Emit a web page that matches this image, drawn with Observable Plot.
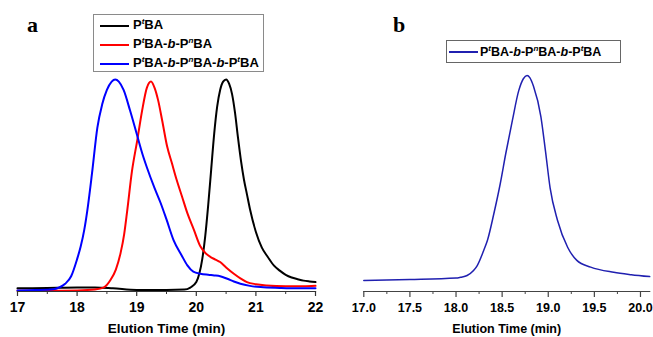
<!DOCTYPE html>
<html>
<head>
<meta charset="utf-8">
<script src="https://cdn.jsdelivr.net/npm/d3@7"></script>
<script src="https://cdn.jsdelivr.net/npm/@observablehq/plot@0.6"></script>
<style>
  html, body { margin: 0; padding: 0; background: #fff; }
  #wrap { position: relative; width: 653px; height: 337px; overflow: hidden; font-family: "Liberation Sans", Arial, sans-serif; }
  .pl { position: absolute; top: 0; }
  .lab { position: absolute; font-family: "Liberation Serif", "Times New Roman", serif; font-weight: bold; font-size: 22px; line-height: 22px; }
  .legend { position: absolute; border: 1px solid #8a8a8a; background: #fff; box-sizing: border-box; }
  .sw { position: absolute; height: 2px; }
  .tx { position: absolute; font-weight: bold; font-size: 13px; line-height: 18px; white-space: nowrap; color: #000; }
  .tx sup { font-size: 8px; font-style: italic; vertical-align: 0; position: relative; top: -5px; }
  .tx i { font-style: italic; }
</style>
</head>
<body>
<div id="wrap">
  <div class="pl" id="pa" style="left:0"></div>
  <div class="pl" id="pb" style="left:330px"></div>
  <div class="lab" style="left:27px; top:14px">a</div>
  <div class="lab" style="left:393px; top:14px">b</div>
  <div class="legend" style="left:93px; top:14px; width:171px; height:58px">
    <div class="sw" style="left:6px; top:10px; width:29px; background:#000"></div>
    <div class="tx" style="left:39px; top:1px">P<sup>t</sup>BA</div>
    <div class="sw" style="left:6px; top:29px; width:29px; background:#ff0000"></div>
    <div class="tx" style="left:39px; top:20px">P<sup>t</sup>BA-<i>b</i>-P<sup>n</sup>BA</div>
    <div class="sw" style="left:6px; top:48px; width:29px; background:#0000ff"></div>
    <div class="tx" style="left:39px; top:39px">P<sup>t</sup>BA-<i>b</i>-P<sup>n</sup>BA-<i>b</i>-P<sup>t</sup>BA</div>
  </div>
  <div class="legend" style="left:446px; top:40px; width:175px; height:23px; border-color:#666">
    <div class="sw" style="left:2px; top:10px; width:29px; height:1.5px; background:#2020b0"></div>
    <div class="tx" style="left:33px; top:1.5px; font-size:12.5px">P<sup>t</sup>BA-<i>b</i>-P<sup>n</sup>BA-<i>b</i>-P<sup>t</sup>BA</div>
  </div>
</div>
<script>
// ---- Panel a data (elution time in min, normalized RI signal) ----
const blackT = [17, 17.5, 18.0, 18.3, 18.6, 19.0, 19.5, 19.8, 19.9, 20.0, 20.05, 20.1, 20.15, 20.2, 20.25, 20.3, 20.35, 20.4, 20.45, 20.5, 20.55, 20.6, 20.65, 20.7, 20.75, 20.8, 20.85, 20.9, 21.0, 21.1, 21.2, 21.3, 21.4, 21.5, 21.6, 21.7, 21.8, 21.9, 22.0];
const blackV = [0.0, 0.002, 0.004, 0.004, 0.0, -0.008, -0.008, -0.006, 0.004, 0.03, 0.07, 0.14, 0.25, 0.40, 0.57, 0.74, 0.87, 0.95, 0.99, 1.0, 0.98, 0.93, 0.84, 0.72, 0.61, 0.52, 0.45, 0.38, 0.27, 0.195, 0.15, 0.11, 0.085, 0.065, 0.052, 0.044, 0.037, 0.033, 0.03];

const redT = [17, 17.5, 18.0, 18.3, 18.45, 18.56, 18.65, 18.73, 18.79, 18.84, 18.92, 19.01, 19.09, 19.17, 19.24, 19.3, 19.36, 19.43, 19.51, 19.59, 19.67, 19.76, 19.85, 19.96, 20.07, 20.15, 20.24, 20.32, 20.4, 20.5, 20.63, 20.74, 20.85, 21.0, 21.18, 21.5, 21.8, 22.0];
const redV = [-0.012, -0.012, -0.01, -0.005, 0.005, 0.04, 0.09, 0.17, 0.26, 0.37, 0.56, 0.71, 0.85, 0.96, 0.99, 0.96, 0.9, 0.8, 0.68, 0.6, 0.52, 0.44, 0.36, 0.28, 0.2, 0.17, 0.15, 0.138, 0.126, 0.1, 0.07, 0.048, 0.03, 0.02, 0.014, 0.01, 0.01, 0.012];

const blueT = [17, 17.3, 17.6, 17.7, 17.8, 17.9, 18.0, 18.06, 18.12, 18.17, 18.25, 18.34, 18.42, 18.5, 18.58, 18.64, 18.7, 18.78, 18.89, 19.0, 19.1, 19.17, 19.3, 19.4, 19.5, 19.62, 19.75, 19.85, 19.95, 20.07, 20.2, 20.3, 20.4, 20.52, 20.63, 20.74, 20.9, 21.08, 21.4, 21.7, 22.0];
const blueV = [-0.01, -0.008, -0.004, 0.004, 0.022, 0.058, 0.14, 0.20, 0.28, 0.37, 0.55, 0.77, 0.88, 0.95, 0.99, 1.0, 0.99, 0.95, 0.85, 0.74, 0.64, 0.58, 0.48, 0.41, 0.33, 0.23, 0.16, 0.11, 0.08, 0.07, 0.065, 0.062, 0.058, 0.046, 0.033, 0.022, 0.012, 0.006, 0.002, 0.0, 0.0];

// ---- Panel b data ----
const bT = [17.0, 17.5, 18.0, 18.05, 18.12, 18.19, 18.23, 18.30, 18.34, 18.41, 18.48, 18.54, 18.61, 18.68, 18.73, 18.77, 18.8, 18.84, 18.92, 18.97, 19.02, 19.10, 19.21, 19.31, 19.46, 19.71, 19.9, 20.1];
const bV = [0.051, 0.055, 0.062, 0.066, 0.074, 0.097, 0.12, 0.19, 0.236, 0.36, 0.50, 0.64, 0.79, 0.93, 0.985, 1.0, 0.99, 0.95, 0.81, 0.65, 0.48, 0.33, 0.205, 0.144, 0.113, 0.089, 0.078, 0.069];

const ticksA = [17, 18, 19, 20, 21, 22];
const minorA = [17.5, 18.5, 19.5, 20.5, 21.5];
const ticksB = [17.0, 17.5, 18.0, 18.5, 19.0, 19.5, 20.0];
const minorB = [17.25, 17.75, 18.25, 18.75, 19.25, 19.75];
const xTitle = "Elution Time (min)";

const pts = (T, V) => T.map((t, i) => ({t, v: V[i]}));
const font = "'Liberation Sans', Arial, sans-serif";

const plotA = Plot.plot({
  width: 330, height: 337,
  marginLeft: 17, marginRight: 15, marginTop: 79, marginBottom: 46,
  x: {domain: [17, 22], axis: null},
  y: {domain: [-0.015, 1.0], axis: null},
  style: {fontFamily: font, background: "transparent", color: "#000"},
  marks: [
    Plot.line(pts(blackT, blackV), {x: "t", y: "v", stroke: "#000", strokeWidth: 2, curve: "monotone-x"}),
    Plot.line(pts(redT, redV), {x: "t", y: "v", stroke: "#ff0000", strokeWidth: 2, curve: "monotone-x"}),
    Plot.line(pts(blueT, blueV), {x: "t", y: "v", stroke: "#0000ff", strokeWidth: 2, curve: "monotone-x"}),
    Plot.frame({anchor: "bottom", stroke: "#333", strokeWidth: 1.2}),
    Plot.tickX(ticksA, {x: d => d, frameAnchor: "bottom", y: null, stroke: "#333", strokeWidth: 1.2, insetTop: 0}),
    Plot.axisX({ticks: ticksA, tickSize: 5, label: null, tickFormat: () => "", stroke: "#333", strokeWidth: 1.2}),
    Plot.axisX({ticks: minorA, tickSize: 3, label: null, tickFormat: () => "", stroke: "#333"}),
    Plot.text(ticksA, {x: d => d, text: d => d3.format("d")(d), frameAnchor: "bottom", lineAnchor: "middle", dy: 16, fontSize: 14, fontWeight: "bold"}),
    Plot.text([xTitle], {text: d => d, frameAnchor: "bottom", lineAnchor: "middle", dy: 37, fontSize: 13.5, fontWeight: "bold"})
  ].filter((m, i) => i !== 4)
});
document.getElementById("pa").appendChild(plotA);

const plotB = Plot.plot({
  width: 323, height: 337,
  marginLeft: 33.3, marginRight: 3.8, marginTop: 75, marginBottom: 46,
  x: {domain: [17, 20.1], axis: null},
  y: {domain: [0, 1.0], axis: null},
  style: {fontFamily: font, background: "transparent", color: "#000"},
  marks: [
    Plot.line(pts(bT, bV), {x: "t", y: "v", stroke: "#2020b0", strokeWidth: 1.5, curve: "monotone-x"}),
    Plot.frame({anchor: "bottom", stroke: "#444", strokeWidth: 1.2}),
    Plot.axisX({ticks: ticksB, tickSize: 6, label: null, tickFormat: () => "", stroke: "#444", strokeWidth: 1.2}),
    Plot.axisX({ticks: minorB, tickSize: 3, label: null, tickFormat: () => "", stroke: "#444"}),
    Plot.text(ticksB, {x: d => d, text: d => d3.format(".1f")(d), frameAnchor: "bottom", lineAnchor: "middle", dy: 16, fontSize: 12.5, fontWeight: "bold"}),
    Plot.text([xTitle], {text: d => d, frameAnchor: "bottom", lineAnchor: "middle", dy: 37, fontSize: 12.5, fontWeight: "bold"})
  ]
});
document.getElementById("pb").appendChild(plotB);
</script>
</body>
</html>
